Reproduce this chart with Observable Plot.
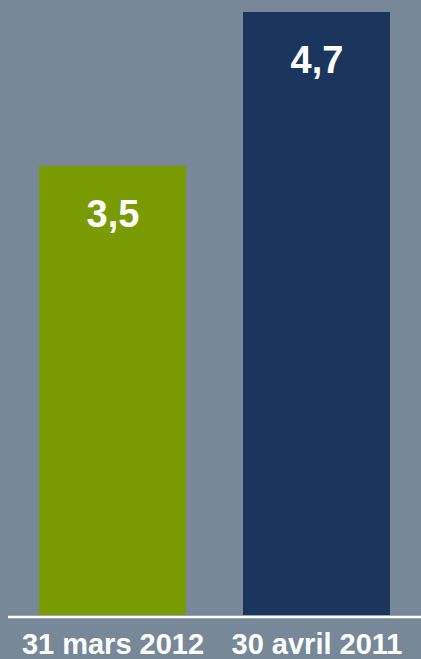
<!DOCTYPE html>
<html>
<head>
<meta charset="utf-8">
<script src="https://cdn.jsdelivr.net/npm/d3@7"></script>
<script src="https://cdn.jsdelivr.net/npm/@observablehq/plot@0.6"></script>
<style>
  html, body { margin: 0; padding: 0; background: #778899; }
  #chart svg { display: block; }
</style>
</head>
<body>
<div id="chart"></div>
<script>
const categories = ["31 mars 2012", "30 avril 2011"];
const values = [3.5, 4.7];
const valueLabels = ["3,5", "4,7"];
const colors = ["#799a00", "#1b365c"];

const data = categories.map((c, i) => ({category: c, value: values[i], label: valueLabels[i]}));

const chart = Plot.plot({
  width: 421,
  height: 659,
  marginTop: 12,
  marginBottom: 44,
  marginLeft: 8,
  marginRight: 0,
  style: {background: "#778899", color: "white", fontFamily: "'Liberation Sans', Arial, sans-serif"},
  x: {domain: categories, range: [39, 390], paddingInner: 57 / 204, paddingOuter: 0, label: null},
  y: {domain: [0, 4.7], axis: null},
  color: {domain: categories, range: colors},
  marks: [
    Plot.barY(data, {x: "category", y: "value", fill: "category"}),
    Plot.ruleY([0], {stroke: "white", strokeWidth: 2.5, dy: 1.5}),
    Plot.text(data, {x: "category", y: "value", text: "label", dy: 48, fill: "white", fontSize: 38, fontWeight: "bold"}),
    Plot.axisX({tickSize: 0, tickPadding: 18, fontSize: 29, fontWeight: "bold", fill: "white", label: null})
  ]
});
document.getElementById("chart").appendChild(chart);
</script>
</body>
</html>
